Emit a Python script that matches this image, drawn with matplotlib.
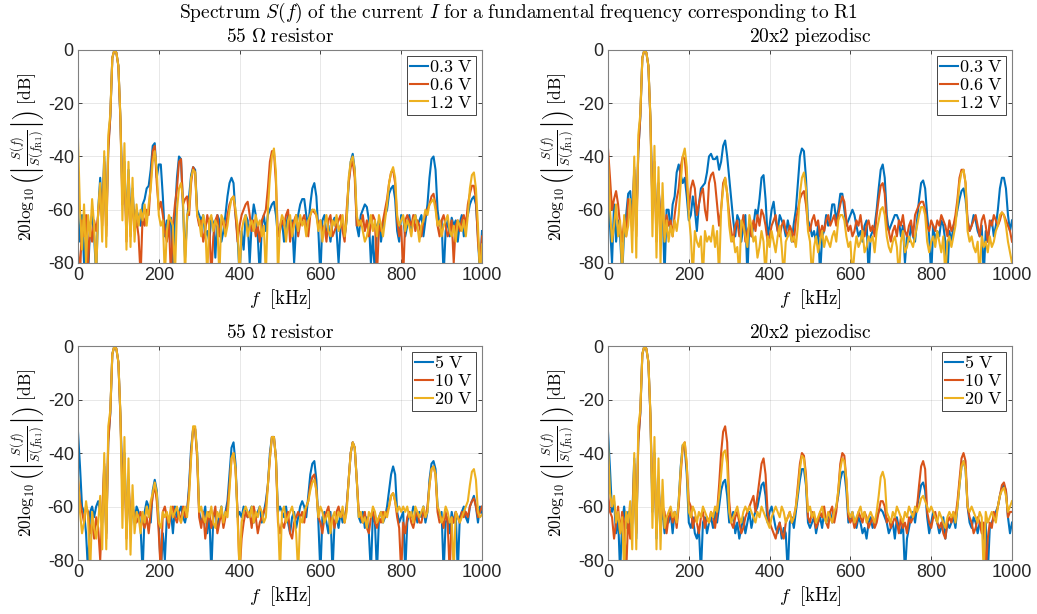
import numpy as np
import matplotlib
matplotlib.use('Agg')
import matplotlib.pyplot as plt

plt.rcParams['mathtext.fontset'] = 'cm'
plt.rcParams['font.family'] = ['Liberation Sans', 'DejaVu Sans']
plt.rcParams['axes.unicode_minus'] = False

# frequency axis of the spectra, kHz (5 kHz steps)
freq_khz = np.arange(0, 1001, 5)

# 55 ohm resistor, low voltage, dB
r55_03V = [
    -60, -72, -62, -80, -68, -85, -66, -62, -70, -85,
    -60, -48, -62, -40, -66, -36, -25, -3, 0, -1,
    -6, -26, -55, -42, -68, -45, -64, -52, -66, -60,
    -63, -66, -58, -56, -52, -51, -45, -36, -35, -48,
    -43, -43, -55, -70, -64, -66, -63, -85, -62, -48,
    -40, -41, -60, -78, -64, -55, -47, -44, -45, -60,
    -62, -64, -62, -70, -68, -72, -63, -65, -78, -62,
    -64, -72, -68, -62, -55, -50, -48, -50, -62, -70,
    -85, -68, -75, -62, -64, -80, -65, -58, -62, -70,
    -85, -66, -62, -68, -62, -60, -58, -57, -62, -70,
    -66, -64, -72, -66, -62, -68, -64, -80, -66, -62,
    -58, -56, -56, -62, -66, -58, -52, -50, -55, -68,
    -85, -64, -62, -70, -66, -72, -65, -63, -68, -80,
    -66, -64, -70, -64, -50, -42, -39, -45, -66, -70,
    -62, -60, -58, -59, -64, -80, -70, -85, -66, -64,
    -72, -66, -62, -60, -54, -52, -51, -56, -68, -72,
    -62, -63, -70, -66, -62, -68, -64, -62, -66, -64,
    -62, -70, -64, -58, -48, -41, -40, -45, -60, -66,
    -64, -85, -68, -64, -70, -63, -66, -64, -72, -65,
    -62, -70, -64, -62, -58, -56, -55, -58, -70, -85,
    -68]
r55_06V = [
    -75, -85, -64, -70, -62, -80, -66, -72, -64, -68,
    -62, -52, -66, -42, -70, -38, -25, -3, 0, -1,
    -6, -26, -58, -44, -72, -48, -70, -54, -68, -64,
    -70, -85, -62, -66, -60, -62, -50, -38, -36, -50,
    -60, -57, -62, -68, -72, -64, -85, -66, -58, -52,
    -42, -41, -58, -56, -55, -62, -50, -44, -46, -62,
    -66, -64, -72, -68, -62, -66, -85, -70, -64, -62,
    -70, -66, -64, -68, -62, -58, -56, -55, -62, -72,
    -66, -62, -60, -58, -57, -62, -68, -64, -70, -66,
    -72, -64, -62, -60, -52, -42, -38, -38, -50, -70,
    -68, -64, -66, -62, -60, -72, -66, -64, -62, -70,
    -65, -64, -62, -66, -70, -62, -60, -61, -62, -66,
    -64, -68, -66, -72, -64, -62, -70, -68, -66, -64,
    -62, -68, -72, -60, -50, -44, -42, -48, -66, -64,
    -66, -62, -68, -64, -70, -66, -62, -64, -85, -66,
    -68, -64, -60, -56, -50, -46, -45, -50, -64, -70,
    -66, -85, -64, -62, -64, -66, -62, -68, -64, -66,
    -70, -64, -62, -60, -58, -55, -54, -58, -66, -70,
    -64, -62, -66, -70, -68, -64, -80, -66, -64, -68,
    -64, -62, -66, -58, -54, -51, -51, -56, -72, -80,
    -70]
r55_12V = [
    -33, -60, -75, -58, -80, -62, -70, -56, -66, -85,
    -60, -50, -72, -38, -74, -32, -24, -3, 0, -1,
    -6, -25, -64, -35, -75, -42, -74, -48, -72, -58,
    -66, -60, -64, -58, -66, -58, -52, -42, -38, -45,
    -62, -66, -64, -85, -68, -62, -64, -66, -85, -60,
    -52, -50, -56, -85, -62, -60, -48, -45, -46, -62,
    -64, -70, -62, -66, -85, -64, -62, -68, -64, -66,
    -85, -62, -64, -70, -66, -60, -56, -55, -60, -66,
    -85, -68, -64, -62, -70, -66, -64, -68, -62, -66,
    -64, -70, -66, -85, -60, -48, -40, -37, -46, -85,
    -66, -62, -64, -72, -64, -62, -70, -66, -62, -68,
    -62, -66, -64, -70, -64, -62, -60, -60, -62, -68,
    -64, -72, -66, -62, -68, -70, -64, -66, -62, -68,
    -66, -62, -70, -64, -48, -42, -40, -45, -62, -66,
    -64, -68, -72, -70, -66, -62, -68, -64, -70, -62,
    -66, -70, -64, -58, -50, -46, -44, -48, -62, -66,
    -64, -62, -68, -64, -66, -70, -64, -62, -66, -72,
    -66, -64, -60, -62, -58, -57, -56, -60, -66, -64,
    -70, -66, -64, -62, -68, -70, -66, -72, -64, -66,
    -68, -64, -70, -62, -52, -47, -46, -52, -66, -85,
    -73]

# 20x2 piezodisc, low voltage, dB
pz_03V = [
    -55, -66, -80, -58, -72, -64, -70, -85, -68, -62,
    -54, -53, -64, -45, -66, -38, -25, -3, 0, -1,
    -6, -26, -58, -44, -66, -52, -62, -58, -85, -60,
    -60, -68, -58, -55, -46, -43, -47, -50, -48, -55,
    -64, -62, -55, -60, -68, -58, -52, -51, -50, -46,
    -40, -39, -41, -41, -40, -45, -42, -36, -34, -40,
    -48, -56, -64, -70, -62, -64, -72, -66, -62, -85,
    -64, -70, -66, -60, -62, -56, -48, -47, -56, -70,
    -66, -60, -57, -64, -68, -62, -64, -66, -70, -64,
    -68, -72, -65, -60, -50, -40, -37, -38, -48, -64,
    -66, -70, -68, -72, -66, -85, -70, -68, -62, -66,
    -64, -58, -58, -64, -60, -54, -54, -60, -66, -64,
    -62, -60, -62, -66, -70, -68, -72, -66, -64, -85,
    -70, -68, -66, -60, -52, -45, -43, -48, -62, -68,
    -66, -64, -62, -62, -64, -70, -66, -80, -70, -72,
    -66, -70, -72, -64, -56, -50, -49, -52, -62, -70,
    -85, -66, -72, -68, -70, -64, -66, -72, -85, -68,
    -72, -66, -64, -60, -56, -53, -52, -56, -64, -68,
    -66, -62, -64, -68, -70, -66, -85, -68, -72, -66,
    -64, -70, -66, -60, -52, -48, -48, -52, -62, -68,
    -64]
pz_06V = [
    -37, -48, -60, -56, -53, -58, -66, -72, -64, -70,
    -56, -58, -68, -44, -70, -38, -25, -3, 0, -1,
    -6, -26, -60, -42, -72, -50, -66, -56, -70, -62,
    -66, -64, -70, -62, -56, -52, -44, -40, -41, -50,
    -60, -52, -49, -52, -62, -58, -54, -52, -60, -64,
    -50, -47, -46, -50, -58, -66, -60, -50, -48, -54,
    -62, -68, -72, -66, -64, -70, -68, -62, -72, -68,
    -66, -70, -64, -68, -62, -66, -60, -62, -66, -72,
    -70, -66, -64, -62, -68, -70, -66, -64, -68, -70,
    -66, -68, -72, -64, -60, -56, -54, -53, -58, -66,
    -68, -64, -62, -66, -64, -70, -66, -68, -64, -62,
    -66, -64, -62, -66, -62, -58, -55, -57, -64, -68,
    -66, -70, -68, -64, -66, -62, -68, -70, -66, -64,
    -68, -66, -70, -62, -56, -51, -50, -54, -66, -68,
    -72, -68, -66, -70, -64, -66, -62, -68, -70, -66,
    -64, -70, -62, -60, -58, -57, -57, -60, -66, -68,
    -64, -66, -68, -64, -66, -62, -64, -66, -70, -64,
    -68, -66, -62, -56, -48, -45, -45, -50, -64, -68,
    -66, -64, -62, -66, -70, -64, -62, -66, -72, -64,
    -66, -62, -64, -66, -64, -61, -62, -64, -66, -68,
    -72]
pz_12V = [
    -40, -60, -72, -66, -58, -70, -64, -85, -62, -70,
    -66, -56, -76, -40, -78, -32, -24, -3, 0, -1,
    -6, -25, -70, -36, -78, -44, -80, -50, -72, -64,
    -72, -66, -70, -64, -68, -62, -50, -40, -37, -44,
    -62, -70, -85, -68, -72, -74, -70, -85, -68, -72,
    -70, -72, -66, -74, -68, -85, -60, -52, -48, -54,
    -66, -72, -70, -76, -74, -85, -64, -66, -70, -74,
    -62, -66, -72, -70, -78, -74, -68, -72, -85, -70,
    -74, -68, -72, -76, -70, -66, -74, -85, -72, -70,
    -68, -72, -70, -74, -66, -54, -48, -46, -52, -68,
    -72, -85, -74, -70, -76, -72, -68, -74, -70, -72,
    -74, -70, -68, -72, -64, -62, -62, -64, -70, -74,
    -72, -85, -76, -70, -74, -72, -68, -76, -74, -70,
    -72, -70, -76, -68, -64, -60, -59, -62, -70, -74,
    -76, -72, -70, -74, -85, -72, -68, -76, -74, -70,
    -72, -74, -70, -66, -62, -59, -59, -62, -72, -76,
    -72, -70, -74, -68, -72, -76, -70, -85, -72, -70,
    -74, -70, -66, -58, -50, -46, -45, -50, -68, -72,
    -70, -74, -76, -72, -85, -70, -74, -72, -76, -70,
    -74, -72, -68, -66, -62, -61, -62, -66, -72, -76,
    -80]

# 55 ohm resistor, high voltage, dB
r55_5V = [
    -32, -45, -60, -62, -70, -85, -62, -60, -64, -60,
    -58, -62, -66, -45, -70, -35, -25, -3, 0, -1,
    -6, -26, -52, -40, -68, -50, -70, -58, -66, -60,
    -62, -68, -85, -62, -58, -60, -66, -54, -50, -54,
    -66, -85, -70, -80, -64, -66, -62, -70, -60, -64,
    -62, -60, -64, -66, -62, -52, -38, -31, -31, -40,
    -62, -66, -64, -60, -70, -62, -85, -64, -62, -68,
    -64, -60, -66, -62, -58, -48, -38, -36, -44, -64,
    -62, -64, -60, -62, -64, -62, -60, -66, -64, -62,
    -60, -66, -62, -58, -52, -40, -34, -34, -42, -62,
    -60, -62, -64, -60, -66, -70, -64, -62, -68, -64,
    -60, -58, -60, -64, -56, -48, -44, -43, -50, -66,
    -85, -64, -62, -66, -70, -62, -85, -66, -64, -68,
    -62, -66, -64, -60, -50, -40, -36, -38, -50, -64,
    -66, -62, -68, -64, -70, -85, -62, -66, -85, -64,
    -62, -66, -64, -60, -54, -48, -45, -48, -62, -66,
    -64, -62, -85, -66, -62, -64, -60, -62, -66, -62,
    -64, -60, -66, -62, -50, -44, -43, -46, -60, -64,
    -62, -85, -66, -64, -70, -62, -66, -62, -85, -64,
    -62, -60, -64, -66, -60, -58, -56, -60, -66, -60,
    -63]
r55_10V = [
    -50, -58, -62, -66, -60, -62, -70, -66, -72, -64,
    -68, -80, -62, -44, -72, -36, -25, -3, 0, -1,
    -6, -26, -56, -42, -72, -50, -66, -60, -64, -66,
    -64, -62, -66, -68, -64, -70, -62, -56, -52, -58,
    -70, -85, -62, -60, -64, -68, -62, -60, -64, -66,
    -62, -66, -60, -64, -62, -54, -40, -31, -31, -42,
    -64, -68, -62, -72, -66, -62, -68, -64, -60, -70,
    -66, -62, -68, -64, -60, -52, -42, -40, -46, -62,
    -85, -72, -66, -62, -64, -62, -68, -60, -64, -70,
    -66, -64, -62, -60, -52, -42, -34, -34, -42, -66,
    -70, -66, -68, -64, -62, -70, -72, -66, -64, -62,
    -64, -62, -66, -60, -58, -52, -49, -48, -54, -64,
    -66, -70, -64, -62, -60, -66, -64, -68, -62, -60,
    -64, -62, -66, -60, -50, -40, -36, -38, -50, -62,
    -64, -66, -62, -68, -70, -64, -62, -66, -68, -64,
    -66, -62, -64, -62, -60, -56, -55, -58, -64, -68,
    -85, -66, -70, -64, -62, -66, -68, -64, -62, -66,
    -66, -62, -64, -60, -52, -46, -45, -48, -62, -66,
    -64, -68, -62, -66, -85, -64, -66, -62, -64, -66,
    -62, -64, -62, -64, -60, -58, -57, -60, -64, -62,
    -60]
r55_20V = [
    -48, -62, -70, -66, -58, -64, -85, -62, -68, -72,
    -66, -56, -76, -40, -76, -30, -24, -3, 0, -1,
    -6, -25, -68, -34, -76, -42, -78, -52, -70, -62,
    -64, -70, -62, -66, -60, -64, -58, -55, -51, -55,
    -66, -68, -62, -64, -62, -66, -60, -64, -62, -60,
    -64, -66, -62, -60, -64, -56, -42, -30, -30, -40,
    -62, -60, -64, -66, -62, -64, -60, -66, -68, -62,
    -64, -60, -66, -62, -64, -54, -42, -40, -46, -64,
    -85, -66, -62, -60, -62, -64, -60, -66, -62, -64,
    -60, -62, -66, -64, -52, -42, -34, -34, -42, -64,
    -85, -62, -60, -66, -64, -62, -60, -64, -70, -85,
    -64, -66, -62, -60, -58, -54, -51, -50, -54, -64,
    -60, -62, -66, -64, -62, -70, -64, -62, -66, -62,
    -64, -60, -66, -62, -50, -40, -36, -38, -50, -64,
    -62, -66, -64, -68, -62, -64, -60, -62, -66, -64,
    -62, -66, -62, -64, -60, -56, -55, -58, -62, -60,
    -62, -60, -62, -60, -64, -62, -66, -60, -62, -64,
    -62, -60, -64, -62, -52, -46, -45, -48, -60, -62,
    -66, -64, -60, -62, -66, -64, -85, -62, -64, -66,
    -64, -62, -60, -58, -52, -47, -46, -50, -62, -64,
    -63]

# 20x2 piezodisc, high voltage, dB
pz_5V = [
    -32, -46, -62, -58, -70, -64, -85, -66, -60, -68,
    -62, -70, -64, -42, -72, -35, -25, -3, 0, -1,
    -6, -26, -62, -40, -72, -50, -66, -62, -70, -64,
    -66, -62, -70, -62, -66, -58, -45, -37, -38, -48,
    -66, -68, -64, -70, -72, -68, -85, -66, -64, -70,
    -66, -64, -68, -62, -66, -60, -54, -51, -50, -56,
    -66, -64, -62, -70, -66, -72, -68, -64, -70, -66,
    -62, -68, -64, -62, -60, -56, -52, -51, -56, -66,
    -62, -60, -64, -68, -70, -66, -72, -68, -70, -85,
    -66, -64, -68, -62, -56, -50, -46, -46, -52, -66,
    -68, -66, -64, -70, -66, -64, -68, -62, -66, -64,
    -62, -66, -64, -60, -56, -50, -47, -47, -54, -66,
    -64, -62, -66, -68, -64, -66, -70, -68, -72, -66,
    -64, -68, -66, -64, -62, -61, -62, -64, -66, -70,
    -68, -66, -72, -64, -68, -70, -66, -85, -72, -68,
    -64, -62, -66, -60, -56, -52, -51, -54, -64, -70,
    -66, -62, -64, -66, -70, -68, -64, -72, -66, -68,
    -66, -64, -68, -60, -52, -45, -43, -46, -60, -66,
    -68, -64, -66, -70, -66, -68, -72, -66, -85, -68,
    -66, -64, -62, -60, -56, -53, -52, -54, -64, -70,
    -66]
pz_10V = [
    -55, -62, -64, -72, -66, -60, -70, -62, -66, -85,
    -64, -72, -66, -44, -70, -36, -25, -3, 0, -1,
    -6, -26, -58, -42, -70, -52, -66, -60, -62, -70,
    -64, -62, -66, -62, -68, -60, -48, -38, -36, -45,
    -58, -60, -68, -64, -66, -70, -64, -62, -68, -64,
    -66, -62, -64, -68, -62, -52, -40, -32, -30, -36,
    -58, -66, -68, -64, -62, -66, -70, -68, -64, -62,
    -60, -58, -56, -62, -56, -50, -44, -42, -48, -62,
    -66, -68, -70, -72, -68, -66, -70, -72, -66, -64,
    -62, -66, -64, -60, -52, -44, -40, -41, -48, -64,
    -66, -62, -64, -68, -66, -62, -64, -60, -66, -68,
    -62, -60, -66, -62, -54, -44, -40, -41, -50, -64,
    -66, -64, -68, -66, -62, -64, -66, -62, -64, -68,
    -66, -64, -68, -66, -62, -58, -58, -60, -66, -64,
    -68, -66, -64, -66, -70, -64, -68, -66, -70, -64,
    -66, -64, -62, -60, -52, -45, -43, -46, -62, -66,
    -68, -64, -62, -66, -68, -66, -70, -72, -66, -64,
    -66, -62, -64, -58, -50, -42, -40, -43, -60, -64,
    -66, -70, -68, -64, -66, -70, -66, -85, -72, -66,
    -68, -62, -64, -60, -56, -52, -51, -54, -64, -62,
    -62]
pz_20V = [
    -36, -55, -60, -56, -66, -62, -70, -64, -85, -62,
    -66, -58, -76, -40, -76, -30, -24, -3, 0, -1,
    -6, -25, -68, -34, -76, -42, -76, -50, -68, -64,
    -62, -60, -64, -62, -66, -58, -46, -37, -36, -44,
    -62, -64, -60, -62, -66, -62, -64, -60, -62, -64,
    -66, -62, -64, -60, -62, -56, -48, -40, -39, -44,
    -62, -66, -64, -62, -60, -64, -66, -62, -60, -62,
    -60, -62, -64, -66, -62, -64, -60, -62, -64, -66,
    -68, -64, -62, -60, -62, -64, -60, -62, -66, -64,
    -62, -66, -64, -60, -54, -46, -41, -42, -50, -62,
    -60, -64, -62, -66, -64, -62, -60, -64, -66, -62,
    -64, -66, -62, -60, -54, -46, -42, -43, -50, -62,
    -64, -62, -66, -64, -62, -60, -64, -62, -66, -64,
    -62, -64, -66, -62, -56, -49, -47, -50, -62, -64,
    -66, -62, -64, -60, -62, -64, -66, -62, -64, -60,
    -62, -64, -60, -62, -60, -57, -56, -58, -60, -62,
    -60, -62, -64, -66, -62, -64, -66, -68, -64, -62,
    -64, -62, -66, -60, -52, -45, -43, -46, -60, -62,
    -60, -62, -64, -66, -62, -64, -85, -62, -66, -64,
    -62, -64, -66, -60, -56, -54, -53, -56, -62, -60,
    -58]

low_labels = ['0.3 V', '0.6 V', '1.2 V']
high_labels = ['5 V', '10 V', '20 V']
colors = ['#0072BD', '#D95319', '#EDB120']


def rm(s):
    return r'$\mathrm{' + s.replace(' ', r'\ ') + '}$'


panels = [
    ([0.0752, 0.5717, 0.3896, 0.3469], r'$55\ \Omega\ \mathrm{resistor}$',
     [r55_03V, r55_06V, r55_12V], low_labels),
    ([0.5863, 0.5717, 0.3896, 0.3469], rm('20x2 piezodisc'),
     [pz_03V, pz_06V, pz_12V], low_labels),
    ([0.0752, 0.0879, 0.3896, 0.3485], r'$55\ \Omega\ \mathrm{resistor}$',
     [r55_5V, r55_10V, r55_20V], high_labels),
    ([0.5863, 0.0879, 0.3896, 0.3485], rm('20x2 piezodisc'),
     [pz_5V, pz_10V, pz_20V], high_labels),
]

fig = plt.figure(figsize=(10.37, 6.14), dpi=100)

for rect, title, series, labels in panels:
    ax = fig.add_axes(rect)
    for vals, lab, c in zip(series, labels, colors):
        ax.plot(freq_khz, vals, color=c, linewidth=1.5, label=rm(lab))
    ax.set_xlim(0, 1000)
    ax.set_ylim(-80, 0)
    ax.set_xticks([0, 200, 400, 600, 800, 1000])
    ax.set_yticks([-80, -60, -40, -20, 0])
    ax.grid(True, color='#262626', alpha=0.12, linewidth=0.6)
    ax.tick_params(direction='in', length=3, labelsize=13, colors='#262626',
                   width=0.6, top=True, right=True, pad=3)
    for s in ax.spines.values():
        s.set_color('#808080')
        s.set_linewidth(0.8)
    ax.set_title(title, fontsize=14, pad=6)
    ax.set_xlabel(r'$f\ \ [\mathrm{kHz}]$', fontsize=13.5, labelpad=2)
    ax.set_ylabel(r'$20\log_{10}\left(\left|\frac{S(f)}{S(f_{\mathrm{R1}})}\right|\right)\ [\mathrm{dB}]$',
                  fontsize=12.5, labelpad=1)
    leg = ax.legend(loc='upper right', fontsize=13, fancybox=False,
                    edgecolor='#262626', framealpha=1, handlelength=1.0,
                    handletextpad=0.1, borderpad=0.15, labelspacing=0.05,
                    borderaxespad=0.35)
    leg.get_frame().set_linewidth(0.6)

fig.suptitle(r'$\mathrm{Spectrum}\ S(f)\ \mathrm{of\ the\ current}\ I\ '
             r'\mathrm{for\ a\ fundamental\ frequency\ corresponding\ to\ R1}$',
             fontsize=14, y=0.998)

fig.savefig('out.png', dpi=100)
